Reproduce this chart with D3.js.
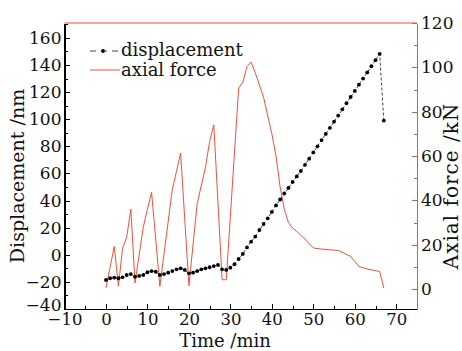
<!DOCTYPE html>
<html>
<head>
<meta charset="utf-8">
<script src="https://cdn.jsdelivr.net/npm/d3@7"></script>
<style>
  body { margin: 0; background: #fff; }
  svg text { font-family: "DejaVu Serif", serif; fill: #111; }
  .axis path, .axis line { shape-rendering: crispEdges; }
</style>
</head>
<body>
<div id="chart"></div>
<script>
// displacement, sampled once a minute
var dispTime = [0, 1, 2, 3, 4, 5, 6, 7, 8, 9, 10, 11, 12, 13, 14, 15, 16, 17, 18, 19,
    20, 21, 22, 23, 24, 25, 26, 27, 28, 29, 30, 31, 32, 33, 34, 35, 36, 37, 38, 39,
    40, 41, 42, 43, 44, 45, 46, 47, 48, 49, 50, 51, 52, 53, 54, 55, 56, 57, 58, 59,
    60, 61, 62, 63, 64, 65, 66, 67];
var dispValues = [-18.6, -17.3, -16.9, -17.3, -16.6, -14.9, -14.2, -16.2, -15.6, -14.9,
    -12.9, -12.0, -12.5, -14.9, -14.2, -13.2, -12.0, -10.7, -10.0, -11.2,
    -13.7, -13.2, -12.0, -10.7, -10.0, -9.2, -8.3, -7.5, -10.7, -11.2,
    -9.5, -7.0, -3.1, 0.6, 5.4, 9.7, 13.4, 18.3, 22.7, 26.9,
    31.6, 36.4, 40.8, 45.2, 49.3, 53.7, 57.8, 61.8, 66.4, 70.9,
    75.5, 80.0, 84.6, 89.2, 93.7, 98.2, 102.7, 107.3, 111.8, 116.4,
    120.9, 125.5, 130.0, 134.5, 139.1, 143.6, 148.2, 99.0];

// axial force
var forceTime = [0, 2, 3, 4, 5, 6, 7, 9, 10, 11, 13, 16, 17, 18, 20, 22, 24, 25, 26, 28,
    29, 32, 33, 34, 35, 36, 38, 40, 41, 42, 43, 44, 45, 46, 48, 50, 52, 56, 59, 61,
    63, 66, 67];
var forceValues = [0.5, 19.2, 1.3, 18.3, 23.4, 36, 2.7, 27.9, 36, 43.6, 1.2, 45, 53, 61.3, 1.5, 38.5, 55, 66.6, 74.1, 4.2,
    4.2, 90.7, 93.2, 100.4, 102.4, 97.5, 86.5, 70, 60, 46, 36, 30, 27.5, 26, 22.5, 18.5, 18, 17.4, 14.7, 10.2,
    9, 7.9, 0.5];

var xTicks = [-10, 0, 10, 20, 30, 40, 50, 60, 70];
var leftTicks = [-40, -20, 0, 20, 40, 60, 80, 100, 120, 140, 160];
var rightTicks = [0, 20, 40, 60, 80, 100, 120];

var red = "#f0503c";
var width = 462, height = 351;
var plotLeft = 64.5, plotRight = 417, plotTop = 23, plotBottom = 309;

var svg = d3.select("#chart")
    .append("svg")
    .attr("width", width)
    .attr("height", height);

var x = d3.scaleLinear().domain([-10, 75]).range([plotLeft, plotRight]);
var yL = d3.scaleLinear().domain([-40, 171]).range([plotBottom, plotTop]);
var yR = d3.scaleLinear().domain([-9, 120]).range([plotBottom, plotTop]);

function minus(d){ return d < 0 ? "\u2212" + (-d) : d; }

// minor ticks first
svg.append("g")
    .attr("class", "axis")
    .attr("transform", "translate(0," + plotBottom + ")")
    .call(d3.axisBottom(x).tickValues(d3.range(-5, 75, 10)).tickSize(-3).tickFormat(""))
    .call(function(g){ g.select(".domain").remove(); });

svg.append("g")
    .attr("class", "axis")
    .attr("transform", "translate(" + plotLeft + ",0)")
    .call(d3.axisLeft(yL).tickValues(d3.range(-30, 171, 20)).tickSize(-3).tickFormat(""))
    .call(function(g){ g.select(".domain").remove(); });

svg.append("g")
    .attr("class", "axis")
    .attr("transform", "translate(" + plotRight + ",0)")
    .call(d3.axisRight(yR).tickValues(d3.range(10, 120, 20)).tickSize(-3).tickFormat(""))
    .call(function(g){
        g.select(".domain").remove();
        g.selectAll("line").attr("stroke", red);
    });

// top border
svg.append("line")
    .attr("x1", plotLeft).attr("x2", plotRight)
    .attr("y1", plotTop).attr("y2", plotTop)
    .attr("stroke", red)
    .attr("stroke-width", 1.2);

// bottom axis
svg.append("g")
    .attr("class", "axis")
    .attr("transform", "translate(0," + plotBottom + ")")
    .call(d3.axisBottom(x).tickValues(xTicks).tickSize(-5).tickSizeOuter(0).tickPadding(4).tickFormat(minus))
    .call(function(g){
        g.select(".domain").attr("stroke-width", 1.3);
        g.selectAll("text").attr("font-size", 16.5).attr("font-family", "DejaVu Serif");
    });

// left axis
svg.append("g")
    .attr("class", "axis")
    .attr("transform", "translate(" + plotLeft + ",0)")
    .call(d3.axisLeft(yL).tickValues(leftTicks).tickSize(-5).tickSizeOuter(0).tickPadding(3).tickFormat(minus))
    .call(function(g){
        g.select(".domain").attr("stroke-width", 1.3);
        g.selectAll("text").attr("font-size", 17).attr("font-family", "DejaVu Serif");
        // lift the bottom label a little so it clears the x label below
        g.selectAll("text").filter(function(d){ return d === -40; }).attr("y", -4);
    });

// right axis
svg.append("g")
    .attr("class", "axis")
    .attr("transform", "translate(" + plotRight + ",0)")
    .call(d3.axisRight(yR).tickValues(rightTicks).tickSize(-5).tickSizeOuter(0).tickPadding(4))
    .call(function(g){
        g.select(".domain").attr("stroke", red).attr("stroke-width", 1.3);
        g.selectAll("line").attr("stroke", red);
        g.selectAll("text").attr("font-size", 17).attr("font-family", "DejaVu Serif");
    });

// axis titles
svg.append("text")
    .attr("transform", "translate(24,176) rotate(-90)")
    .attr("text-anchor", "middle")
    .attr("font-size", 19)
    .text("Displacement /nm");

svg.append("text")
    .attr("transform", "translate(458,186) rotate(-90)")
    .attr("text-anchor", "middle")
    .attr("font-size", 20)
    .attr("letter-spacing", 1)
    .text("Axial force /kN");

svg.append("text")
    .attr("x", 225)
    .attr("y", 347)
    .attr("text-anchor", "middle")
    .attr("font-size", 18)
    .text("Time /min");

// axial force line
var forceData = forceTime.map(function(t, i){ return {t: t, v: forceValues[i]}; });
svg.append("path")
    .datum(forceData)
    .attr("fill", "none")
    .attr("stroke", red)
    .attr("stroke-width", 1)
    .attr("d", d3.line()
        .x(function(d){ return x(d.t); })
        .y(function(d){ return yR(d.v); }));

// displacement line + dots
var dispData = dispTime.map(function(t, i){ return {t: t, v: dispValues[i]}; });
svg.append("path")
    .datum(dispData)
    .attr("fill", "none")
    .attr("stroke", "#444")
    .attr("stroke-width", 1)
    .attr("stroke-dasharray", "3,2")
    .attr("d", d3.line()
        .x(function(d){ return x(d.t); })
        .y(function(d){ return yL(d.v); }));

svg.selectAll(".dot")
    .data(dispData)
    .enter().append("circle")
    .attr("class", "dot")
    .attr("cx", function(d){ return x(d.t); })
    .attr("cy", function(d){ return yL(d.v); })
    .attr("r", 1.9)
    .attr("fill", "#000");

// legend
var legend = svg.append("g");
legend.append("line")
    .attr("x1", 90).attr("x2", 120).attr("y1", 51).attr("y2", 51)
    .attr("stroke", "#444").attr("stroke-dasharray", "6,5");
legend.append("circle")
    .attr("cx", 103).attr("cy", 51).attr("r", 1.9).attr("fill", "#000");
legend.append("text")
    .attr("x", 121).attr("y", 56)
    .attr("font-size", 18)
    .text("displacement");

legend.append("line")
    .attr("x1", 90).attr("x2", 120).attr("y1", 70).attr("y2", 70)
    .attr("stroke", red).attr("stroke-width", 1);
legend.append("text")
    .attr("x", 121).attr("y", 76)
    .attr("font-size", 18)
    .text("axial force");
</script>
</body>
</html>
